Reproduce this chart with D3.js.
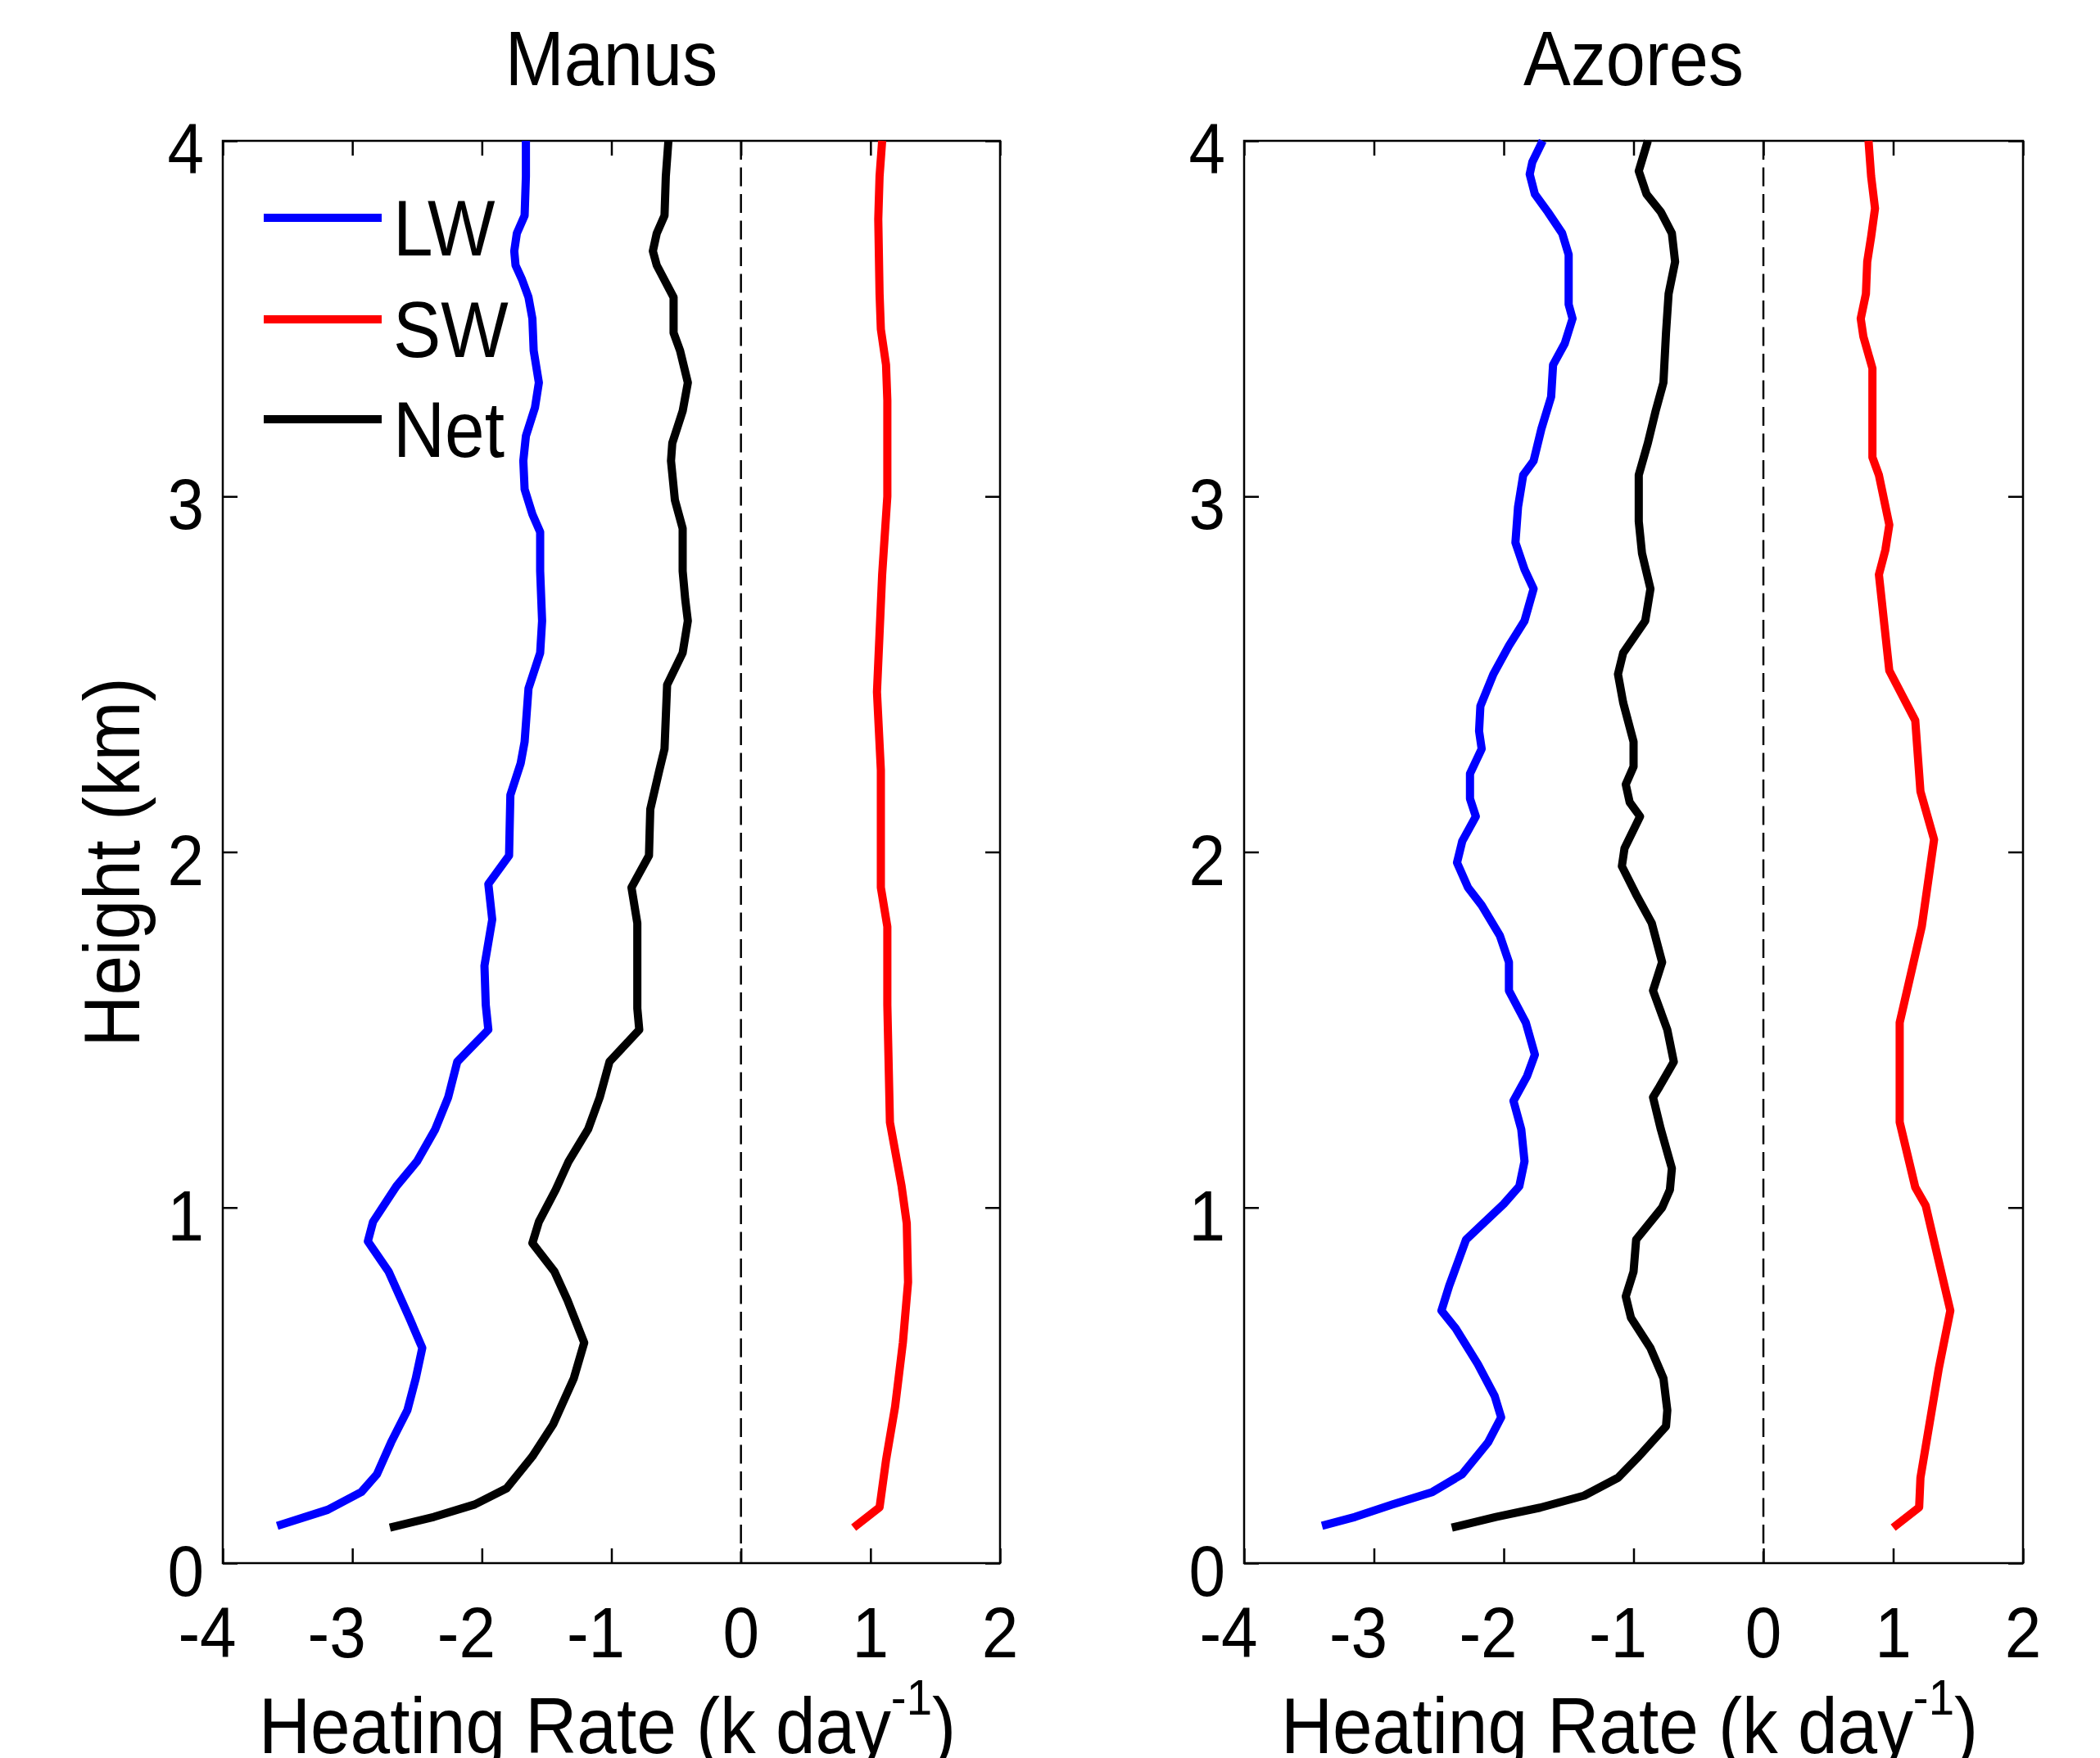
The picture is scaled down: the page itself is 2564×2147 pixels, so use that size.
<!DOCTYPE html>
<html>
<head>
<meta charset="utf-8">
<script src="https://cdn.jsdelivr.net/npm/d3@7"></script>
<style>
  body { margin: 0; background: #fff; }
  text { font-family: "Liberation Sans", Arial, Helvetica, sans-serif; fill: #000; }
</style>
</head>
<body>
<div id="chart"></div>
<script>
// [height km, heating rate k/day], top to bottom
var manusLW = [[4.00,-1.66],[3.90,-1.66],[3.79,-1.67],[3.74,-1.73],[3.69,-1.75],[3.65,-1.74],[3.61,-1.69],[3.56,-1.64],[3.50,-1.61],[3.41,-1.60],[3.32,-1.56],[3.25,-1.59],[3.17,-1.66],[3.10,-1.68],[3.02,-1.67],[2.95,-1.61],[2.90,-1.55],[2.79,-1.55],[2.65,-1.535],[2.56,-1.55],[2.46,-1.64],[2.31,-1.67],[2.25,-1.70],[2.16,-1.78],[1.99,-1.79],[1.91,-1.95],[1.81,-1.92],[1.68,-1.98],[1.57,-1.97],[1.50,-1.95],[1.41,-2.19],[1.31,-2.26],[1.22,-2.36],[1.13,-2.50],[1.06,-2.66],[0.96,-2.84],[0.905,-2.88],[0.82,-2.72],[0.69,-2.56],[0.605,-2.46],[0.52,-2.51],[0.43,-2.575],[0.34,-2.70],[0.25,-2.81],[0.20,-2.93],[0.15,-3.19],[0.105,-3.58]];
var manusSW = [[4.00,1.09],[3.90,1.07],[3.78,1.06],[3.57,1.07],[3.47,1.08],[3.37,1.12],[3.27,1.13],[3.00,1.13],[2.78,1.09],[2.45,1.05],[2.23,1.08],[1.90,1.08],[1.79,1.13],[1.57,1.13],[1.24,1.15],[1.06,1.24],[0.955,1.28],[0.79,1.29],[0.62,1.25],[0.44,1.19],[0.29,1.12],[0.157,1.07],[0.10,0.87]];
var manusNet = [[4.00,-0.56],[3.90,-0.58],[3.79,-0.59],[3.74,-0.65],[3.69,-0.68],[3.65,-0.65],[3.56,-0.52],[3.46,-0.52],[3.41,-0.47],[3.32,-0.41],[3.24,-0.45],[3.15,-0.53],[3.10,-0.54],[2.99,-0.51],[2.91,-0.45],[2.79,-0.45],[2.71,-0.43],[2.65,-0.41],[2.56,-0.45],[2.47,-0.57],[2.29,-0.59],[2.23,-0.63],[2.12,-0.70],[1.99,-0.71],[1.90,-0.845],[1.80,-0.80],[1.68,-0.80],[1.56,-0.80],[1.50,-0.785],[1.41,-1.015],[1.31,-1.09],[1.22,-1.18],[1.13,-1.33],[1.05,-1.43],[0.96,-1.56],[0.90,-1.61],[0.82,-1.44],[0.74,-1.34],[0.62,-1.21],[0.52,-1.29],[0.39,-1.45],[0.30,-1.61],[0.21,-1.81],[0.165,-2.055],[0.13,-2.37],[0.10,-2.71]];

var azoresLW = [[4.00,-1.70],[3.94,-1.78],[3.906,-1.80],[3.85,-1.76],[3.80,-1.66],[3.74,-1.55],[3.68,-1.50],[3.63,-1.50],[3.54,-1.50],[3.50,-1.47],[3.43,-1.53],[3.37,-1.62],[3.28,-1.635],[3.19,-1.71],[3.10,-1.77],[3.06,-1.85],[2.97,-1.89],[2.87,-1.91],[2.795,-1.84],[2.74,-1.77],[2.65,-1.84],[2.58,-1.96],[2.50,-2.08],[2.41,-2.18],[2.34,-2.19],[2.29,-2.17],[2.22,-2.26],[2.15,-2.26],[2.10,-2.215],[2.03,-2.32],[1.97,-2.36],[1.90,-2.275],[1.85,-2.17],[1.765,-2.03],[1.69,-1.96],[1.61,-1.96],[1.52,-1.83],[1.43,-1.76],[1.37,-1.82],[1.30,-1.925],[1.22,-1.865],[1.13,-1.84],[1.06,-1.88],[1.01,-2.00],[0.91,-2.29],[0.85,-2.35],[0.78,-2.42],[0.71,-2.48],[0.66,-2.37],[0.56,-2.20],[0.47,-2.07],[0.41,-2.02],[0.34,-2.12],[0.25,-2.32],[0.20,-2.55],[0.165,-2.855],[0.13,-3.145],[0.105,-3.40]];
var azoresSW = [[4.00,0.81],[3.90,0.83],[3.81,0.86],[3.73,0.83],[3.66,0.80],[3.57,0.79],[3.50,0.75],[3.45,0.77],[3.36,0.84],[3.11,0.84],[3.06,0.89],[2.92,0.97],[2.85,0.94],[2.78,0.89],[2.51,0.97],[2.37,1.17],[2.17,1.21],[2.035,1.315],[1.79,1.22],[1.52,1.05],[1.24,1.05],[1.057,1.17],[1.006,1.25],[0.71,1.44],[0.545,1.35],[0.24,1.21],[0.157,1.20],[0.10,1.00]];
var azoresNet = [[4.00,-0.89],[3.915,-0.96],[3.85,-0.90],[3.80,-0.79],[3.74,-0.705],[3.66,-0.68],[3.57,-0.73],[3.46,-0.75],[3.32,-0.77],[3.24,-0.83],[3.15,-0.89],[3.06,-0.96],[2.93,-0.96],[2.84,-0.935],[2.74,-0.87],[2.65,-0.91],[2.56,-1.08],[2.50,-1.12],[2.42,-1.08],[2.31,-1.00],[2.24,-1.00],[2.19,-1.06],[2.14,-1.03],[2.10,-0.95],[2.01,-1.07],[1.96,-1.09],[1.88,-0.98],[1.80,-0.86],[1.69,-0.78],[1.61,-0.85],[1.50,-0.74],[1.41,-0.69],[1.34,-0.80],[1.31,-0.85],[1.22,-0.79],[1.11,-0.705],[1.05,-0.72],[1.00,-0.78],[0.91,-0.98],[0.82,-1.00],[0.75,-1.06],[0.69,-1.02],[0.605,-0.87],[0.52,-0.77],[0.43,-0.74],[0.385,-0.75],[0.30,-0.96],[0.24,-1.12],[0.19,-1.38],[0.156,-1.72],[0.13,-2.06],[0.10,-2.40]];

var xTicks = [-4, -3, -2, -1, 0, 1, 2];
var yTicks = [0, 1, 2, 3, 4];
var seriesNames = ["LW", "SW", "Net"];
var seriesColors = ["#0000ff", "#ff0000", "#000000"];

var width = 2564, height = 2147;
var top_ = 172, bottom = 1909;
var SX = 0.91; // the original font is a bit narrower than Arial

var svg = d3.select("#chart").append("svg")
    .attr("width", width)
    .attr("height", height);
svg.append("rect").attr("width", width).attr("height", height).attr("fill", "#fff");

function label(g, x, y, txt, size, anchor){
    return g.append("text")
        .attr("transform", "translate(" + x + "," + y + ") scale(" + SX + ",1)")
        .attr("text-anchor", anchor)
        .style("font-size", size + "px")
        .text(txt);
}

function drawPanel(title, left, right, data, showYLabel, showLegend){
    var x = d3.scaleLinear().domain([-4, 2]).range([left, right]);
    var y = d3.scaleLinear().domain([0, 4]).range([bottom, top_]);
    var g = svg.append("g");

    // zero line
    g.append("line")
        .attr("x1", x(0)).attr("x2", x(0))
        .attr("y1", y(4)).attr("y2", y(0))
        .attr("stroke", "#000")
        .attr("stroke-width", 2.5)
        .attr("stroke-dasharray", "23,9.5");

    // ticks on all four sides, pointing in
    var axes = [
        [d3.axisBottom(x).tickValues(xTicks), "translate(0," + bottom + ")"],
        [d3.axisTop(x).tickValues(xTicks), "translate(0," + top_ + ")"],
        [d3.axisLeft(y).tickValues(yTicks), "translate(" + left + ",0)"],
        [d3.axisRight(y).tickValues(yTicks), "translate(" + right + ",0)"]
    ];
    axes.forEach(function(a){
        var ax = g.append("g").attr("transform", a[1])
            .call(a[0].tickSize(-18).tickFormat(""));
        ax.select(".domain").remove();
        ax.selectAll("line").attr("stroke", "#000").attr("stroke-width", 2.5);
    });

    g.append("rect")
        .attr("x", left).attr("y", top_)
        .attr("width", right - left).attr("height", bottom - top_)
        .attr("fill", "none").attr("stroke", "#000").attr("stroke-width", 2.5);

    xTicks.forEach(function(v){
        label(g, x(v) + (v < 0 ? -19 : 0), 2024, String(v), 88, "middle");
    });
    yTicks.forEach(function(v){
        label(g, left - 23, y(v) + 40, String(v), 88, "end");
    });

    var line = d3.line()
        .x(function(d){ return x(d[1]); })
        .y(function(d){ return y(d[0]); });

    data.forEach(function(s, i){
        g.append("path")
            .datum(s)
            .attr("d", line)
            .attr("fill", "none")
            .attr("stroke", seriesColors[i])
            .attr("stroke-width", 10)
            .attr("stroke-linejoin", "round");
    });

    label(g, (left + right) / 2, 104, title, 95, "middle");

    var xl = g.append("text")
        .attr("transform", "translate(" + ((left + right) / 2 - 5) + ",2141) scale(" + SX + ",1)")
        .attr("text-anchor", "middle")
        .style("font-size", "96px");
    xl.append("tspan").text("Heating Rate (k day");
    xl.append("tspan").attr("dy", -47).style("font-size", "62px").text("-1");
    xl.append("tspan").attr("dy", 47).text(")");

    if(showYLabel){
        g.append("text")
            .attr("transform", "translate(170,1053) rotate(-90) scale(" + SX + ",1)")
            .attr("text-anchor", "middle")
            .style("font-size", "96px")
            .text("Height (km)");
    }

    if(showLegend){
        var ly = [266, 390, 512];
        seriesNames.forEach(function(n, i){
            g.append("line")
                .attr("x1", 322).attr("x2", 466)
                .attr("y1", ly[i]).attr("y2", ly[i])
                .attr("stroke", seriesColors[i])
                .attr("stroke-width", 10);
            label(g, 480, ly[i] + 46, n, 96, "start");
        });
    }
}

drawPanel("Manus", 272, 1221, [manusLW, manusSW, manusNet], true, true);
drawPanel("Azores", 1519, 2470, [azoresLW, azoresSW, azoresNet], false, false);
</script>
</body>
</html>
